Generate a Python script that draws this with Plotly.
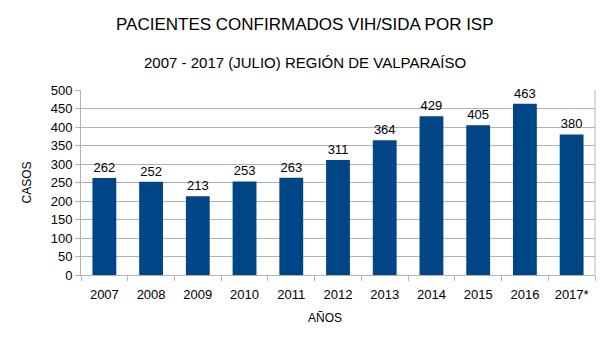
import plotly.graph_objects as go

years = ["2007", "2008", "2009", "2010", "2011", "2012", "2013", "2014", "2015", "2016", "2017*"]
cases = [262, 252, 213, 253, 263, 311, 364, 429, 405, 463, 380]
y_ticks = [0, 50, 100, 150, 200, 250, 300, 350, 400, 450, 500]

title_text = "PACIENTES CONFIRMADOS VIH/SIDA POR ISP"
subtitle_text = "2007 - 2017 (JULIO) REGIÓN DE VALPARAÍSO"

FONT = "Liberation Sans, Arial, sans-serif"
GRID = "#b3b3b3"

fig = go.Figure(
    go.Bar(
        x=years,
        y=cases,
        marker=dict(color="#004586", line=dict(width=0)),
        text=[str(v) for v in cases],
        textposition="outside",
        textfont=dict(family=FONT, size=13, color="#000000"),
        cliponaxis=False,
        width=0.51,
    )
)

W, H = 610, 344
plot_left, plot_right = 81, 595
plot_top, plot_bottom = 90, 275
plot_h = plot_bottom - plot_top
plot_w = plot_right - plot_left


def paper_y(px):
    return (plot_bottom - px) / plot_h


def paper_x(px):
    return (px - plot_left) / plot_w


fig.update_layout(
    width=W,
    height=H,
    margin=dict(l=plot_left, r=W - plot_right, t=plot_top, b=H - plot_bottom),
    paper_bgcolor="white",
    plot_bgcolor="white",
    showlegend=False,
    font=dict(family=FONT, color="#000000"),
    annotations=[
        dict(text=title_text, x=paper_x(W / 2), xref="paper", xanchor="center",
             y=paper_y(24), yref="paper", yanchor="middle", showarrow=False,
             font=dict(family=FONT, size=17, color="#000000")),
        dict(text=subtitle_text, x=paper_x(W / 2), xref="paper", xanchor="center",
             y=paper_y(62), yref="paper", yanchor="middle", showarrow=False,
             font=dict(family=FONT, size=15, color="#000000")),
        dict(text="AÑOS", x=paper_x(W / 2 + 20), xref="paper", xanchor="center",
             y=paper_y(318), yref="paper", yanchor="middle", showarrow=False,
             font=dict(family=FONT, size=12, color="#000000")),
    ],
)

fig.update_xaxes(
    type="category",
    showgrid=False,
    showline=True,
    linecolor=GRID,
    linewidth=1,
    ticks="outside",
    tickson="boundaries",
    ticklen=5,
    tickcolor=GRID,
    ticklabelstandoff=7,
    tickfont=dict(family=FONT, size=13, color="#000000"),
    range=[-0.5, len(years) - 0.5],
)

fig.update_yaxes(
    range=[0, 500],
    tickvals=y_ticks,
    showgrid=True,
    gridcolor=GRID,
    gridwidth=1,
    showline=True,
    linecolor=GRID,
    linewidth=1,
    ticks="outside",
    ticklen=5,
    tickcolor=GRID,
    zeroline=False,
    tickfont=dict(family=FONT, size=13, color="#000000"),
    title=dict(text="CASOS", font=dict(family=FONT, size=12, color="#000000"), standoff=16),
)

# right border line of the plot area
fig.add_shape(type="line", xref="paper", yref="paper", x0=1, x1=1, y0=0, y1=1,
              line=dict(color=GRID, width=1))

fig.write_html("out.html")
